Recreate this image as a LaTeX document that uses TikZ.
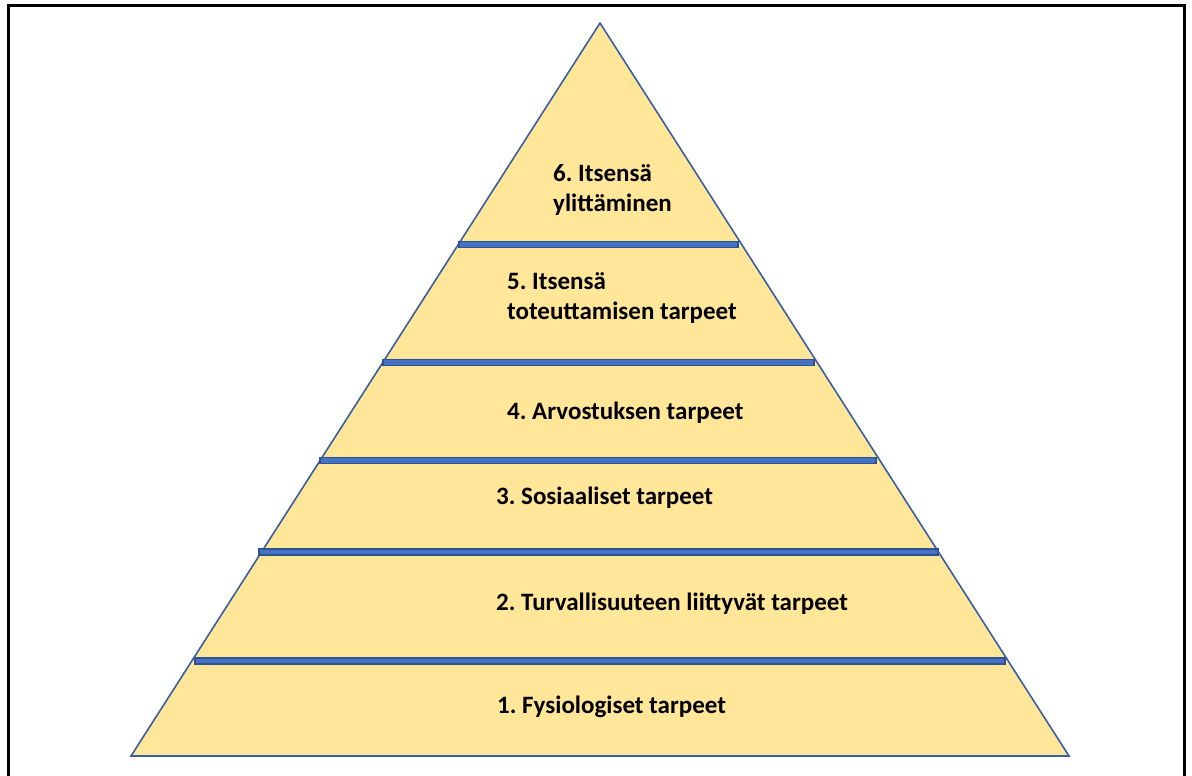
\documentclass[tikz,border=0pt]{standalone}
\usepackage{fontspec}
\setmainfont{Carlito}
\frenchspacing
\definecolor{tierfill}{HTML}{FFE699}
\definecolor{tierline}{HTML}{3A5FA0}
\definecolor{barfill}{HTML}{4472C4}
\definecolor{barline}{HTML}{2F528F}
\begin{document}
\begin{tikzpicture}[x=1pt,y=-1pt,
  label/.style={font=\fontsize{25}{29.5}\selectfont\bfseries, inner sep=0pt, align=left, text=black},
  divider/.style={fill=barfill, draw=barline, line width=1.4pt}]
\useasboundingbox (0,0) rectangle (1192,776);
% outer frame (open at the bottom edge)
\draw[line width=2.6pt, black] (8.5,790) -- (8.5,5.5) -- (1184.5,5.5) -- (1184.5,790);
% pyramid body
\draw[fill=tierfill, draw=tierline, line width=1.6pt, line join=miter]
  (600,23) -- (1069,756) -- (131,756) -- cycle;
% dividers between the levels
\draw[divider] (459,241.5) rectangle (738,247.5);
\draw[divider] (383,359.5) rectangle (814,365.5);
\draw[divider] (320,457.5) rectangle (876,463.5);
\draw[divider] (259,549) rectangle (938,555);
\draw[divider] (195,658) rectangle (1005,664);
% level labels
\node[label, anchor=west] (l6) at (553,190) {6. Itsensä\\ylittäminen};
\node[label, anchor=west] (l5) at (507,298) {5. Itsensä\\toteuttamisen tarpeet};
\node[label, anchor=west] (l4) at (507,413) {4. Arvostuksen tarpeet};
\node[label, anchor=west] (l3) at (496,498) {3. Sosiaaliset tarpeet};
\node[label, anchor=west] (l2) at (496,604) {2. Turvallisuuteen liittyvät tarpeet};
\node[label, anchor=west] (l1) at (497,707) {1. Fysiologiset tarpeet};
\end{tikzpicture}
\end{document}
